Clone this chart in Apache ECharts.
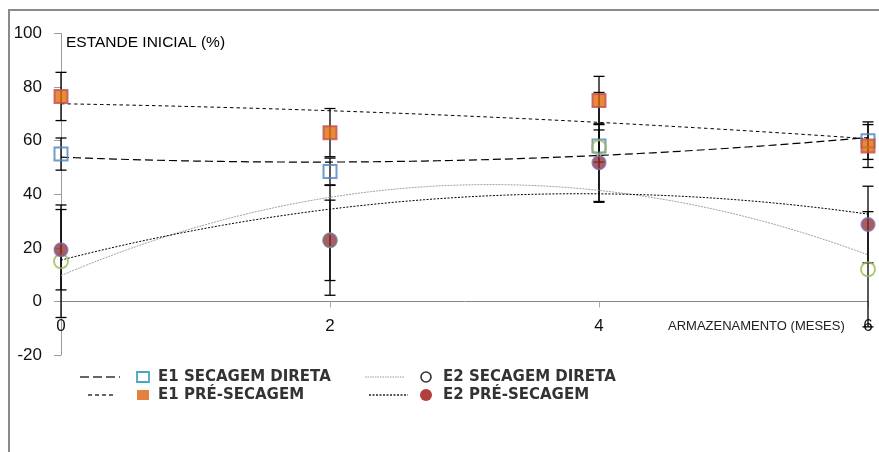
<!DOCTYPE html>
<html><head><meta charset="utf-8">
<script src="https://cdn.jsdelivr.net/npm/echarts@6/dist/echarts.min.js"></script>
<style>html,body{margin:0;padding:0;background:#fff}#c{width:879px;height:452px}</style>
</head><body><div id="c"></div>
<script>
// ---- data ----
const months = [0, 2, 4, 6];
const yTicks = [-20, 0, 20, 40, 60, 80, 100];
const e1Direta = [55, 48.5, 58, 60];
const e1DiretaErr = [6, 5, 6, 7];
const e1Pre = [76.5, 63, 75, 58];
const e1PreErr = [9, 9, 9, 8];
const e2Direta = [15, 22.8, 57.5, 12];
const e2DiretaErr = [21, 20.5, 20.5, 21.5];
const e2Pre = [19.3, 22.8, 51.8, 28.7];
const e2PreErr = [15, 15, 14.5, 14.3];
const seriesNames = ['E1 SECAGEM DIRETA', 'E1 PRÉ-SECAGEM', 'E2 SECAGEM DIRETA', 'E2 PRÉ-SECAGEM'];
const yTitle = 'ESTANDE INICIAL (%)';
const xTitle = 'ARMAZENAMENTO (MESES)';

// quadratic least-squares trendline (as in the original spreadsheet)
function polyFit2(xs, ys) {
  let s = [0,0,0,0,0], t = [0,0,0];
  xs.forEach((x, i) => {
    for (let k = 0; k < 5; k++) s[k] += Math.pow(x, k);
    for (let k = 0; k < 3; k++) t[k] += ys[i] * Math.pow(x, k);
  });
  const A = [[s[0], s[1], s[2], t[0]], [s[1], s[2], s[3], t[1]], [s[2], s[3], s[4], t[2]]];
  for (let i = 0; i < 3; i++) {
    for (let j = i + 1; j < 3; j++) {
      const f = A[j][i] / A[i][i];
      for (let k = i; k < 4; k++) A[j][k] -= f * A[i][k];
    }
  }
  const c = [0,0,0];
  for (let i = 2; i >= 0; i--) {
    let v = A[i][3];
    for (let k = i + 1; k < 3; k++) v -= A[i][k] * c[k];
    c[i] = v / A[i][i];
  }
  const out = [];
  for (let k = 0; k <= 60; k++) {
    const x = months[0] + (months[months.length - 1] - months[0]) * k / 60;
    out.push([x, c[0] + c[1] * x + c[2] * x * x]);
  }
  return out;
}

function errData(vals, errs) { return months.map((m, i) => [m, vals[i] - errs[i], vals[i] + errs[i]]); }
function pts(vals) { return months.map((m, i) => [m, vals[i]]); }

const chart = echarts.init(document.getElementById('c'), null, {renderer: 'canvas'});

function errSeries(vals, errs) {
  return {
    type: 'custom', z: 2, silent: true,
    data: errData(vals, errs),
    renderItem: function (params, api) {
      const lo = api.coord([api.value(0), api.value(1)]);
      const hi = api.coord([api.value(0), api.value(2)]);
      const w = 5.5;
      const st = {stroke: '#000', lineWidth: 1.3};
      return {type: 'group', children: [
        {type: 'line', shape: {x1: lo[0], y1: lo[1], x2: hi[0], y2: hi[1]}, style: st},
        {type: 'line', shape: {x1: lo[0] - w, y1: lo[1], x2: lo[0] + w, y2: lo[1]}, style: st},
        {type: 'line', shape: {x1: hi[0] - w, y1: hi[1], x2: hi[0] + w, y2: hi[1]}, style: st}
      ]};
    }
  };
}

function trend(vals, color, width, dash) {
  return {type: 'line', z: 3, silent: true, symbol: 'none', data: polyFit2(months, vals),
    lineStyle: {color: color, width: width, type: dash}};
}

const series = [
  errSeries(e1Direta, e1DiretaErr),
  errSeries(e1Pre, e1PreErr),
  errSeries(e2Direta, e2DiretaErr),
  errSeries(e2Pre, e2PreErr),
  trend(e1Direta, '#000', 1.2, [8, 4]),
  trend(e1Pre, '#000', 1, [3.5, 3]),
  trend(e2Direta, '#a0a0a0', 1, [2, 1]),
  trend(e2Pre, '#000', 1, [2, 1.5]),
  {name: seriesNames[0], type: 'scatter', z: 5, symbol: 'rect', symbolSize: 13, data: pts(e1Direta),
    itemStyle: {color: 'rgba(255,255,255,0)', borderColor: '#4F81BD', borderWidth: 2}},
  {name: seriesNames[1], type: 'scatter', z: 6, symbol: 'rect', symbolSize: 13, data: pts(e1Pre),
    itemStyle: {color: '#E46C0A', borderColor: '#C0504D', borderWidth: 2}},
  {name: seriesNames[2], type: 'scatter', z: 7, symbol: 'circle', symbolSize: 14, data: pts(e2Direta),
    itemStyle: {color: 'rgba(255,255,255,0)', borderColor: '#9BBB59', borderWidth: 2}},
  {name: seriesNames[3], type: 'scatter', z: 8, symbol: 'circle', symbolSize: 13, data: pts(e2Pre),
    itemStyle: {color: '#953735', borderColor: '#8064A2', borderWidth: 2}}
];

// legend drawn as graphics (line sample + marker + label)
const r1 = 377, r2 = 395;
const legendText = (x, y, t) => ({type: 'text', x: x, y: y, style: {text: t, fill: '#333', font: 'bold 15px "DejaVu Sans"', textVerticalAlign: 'middle'}});
const graphic = [
  {type: 'polyline', shape: {points: [[9, 452], [9, 10], [879, 10]]}, style: {stroke: '#8a8a8a', lineWidth: 2, fill: null}},
  {type: 'text', x: 66, y: 43, style: {text: yTitle, fill: '#000', font: '15.5px "Liberation Sans"', textVerticalAlign: 'middle'}},
  {type: 'text', x: 668, y: 326, style: {text: xTitle, fill: '#222', font: '13px "Liberation Sans"', textVerticalAlign: 'middle'}},
  {type: 'line', shape: {x1: 80, y1: r1, x2: 120, y2: r1}, style: {stroke: '#333', lineWidth: 1.6, lineDash: [9, 4]}},
  {type: 'rect', shape: {x: 137, y: r1 - 5, width: 12, height: 10}, style: {stroke: '#4BA3C8', lineWidth: 1.8, fill: '#fff'}},
  legendText(158, r1, seriesNames[0]),
  {type: 'line', shape: {x1: 88, y1: r2, x2: 116, y2: r2}, style: {stroke: '#333', lineWidth: 1.3, lineDash: [4, 3]}},
  {type: 'rect', shape: {x: 137, y: r2 - 5, width: 12, height: 10}, style: {fill: '#E2823D'}},
  legendText(158, r2, seriesNames[1]),
  {type: 'line', shape: {x1: 365, y1: r1, x2: 404, y2: r1}, style: {stroke: '#999', lineWidth: 1, lineDash: [1.5, 1]}},
  {type: 'circle', shape: {cx: 426, cy: r1, r: 5}, style: {stroke: '#333', lineWidth: 1.6, fill: '#fff'}},
  legendText(443, r1, seriesNames[2]),
  {type: 'line', shape: {x1: 369, y1: r2, x2: 408, y2: r2}, style: {stroke: '#222', lineWidth: 1.3, lineDash: [2, 1.5]}},
  {type: 'circle', shape: {cx: 426, cy: r2, r: 6}, style: {fill: '#B33F3C'}},
  legendText(443, r2, seriesNames[3])
];

chart.setOption({
  animation: false,
  grid: {left: 61, right: 11, top: 33.5, bottom: 97, containLabel: false},
  xAxis: {type: 'value', min: months[0], max: months[months.length - 1], interval: 2,
    axisLine: {onZero: true, lineStyle: {color: '#868686', width: 1}},
    axisTick: {show: true, length: 6, lineStyle: {color: '#aaa'}},
    splitLine: {show: false},
    axisLabel: {margin: -37, color: '#111', fontSize: 17, fontFamily: 'Liberation Sans'}},
  yAxis: {type: 'value', min: yTicks[0], max: yTicks[yTicks.length - 1], interval: 20,
    axisLine: {show: true, onZero: false, lineStyle: {color: '#9a9a9a', width: 1}},
    axisTick: {show: true, length: 7, lineStyle: {color: '#9a9a9a'}},
    splitLine: {show: false},
    axisLabel: {margin: 19, color: '#111', fontSize: 17, fontFamily: 'Liberation Sans'}},
  graphic: graphic,
  series: series
});
</script></body></html>
